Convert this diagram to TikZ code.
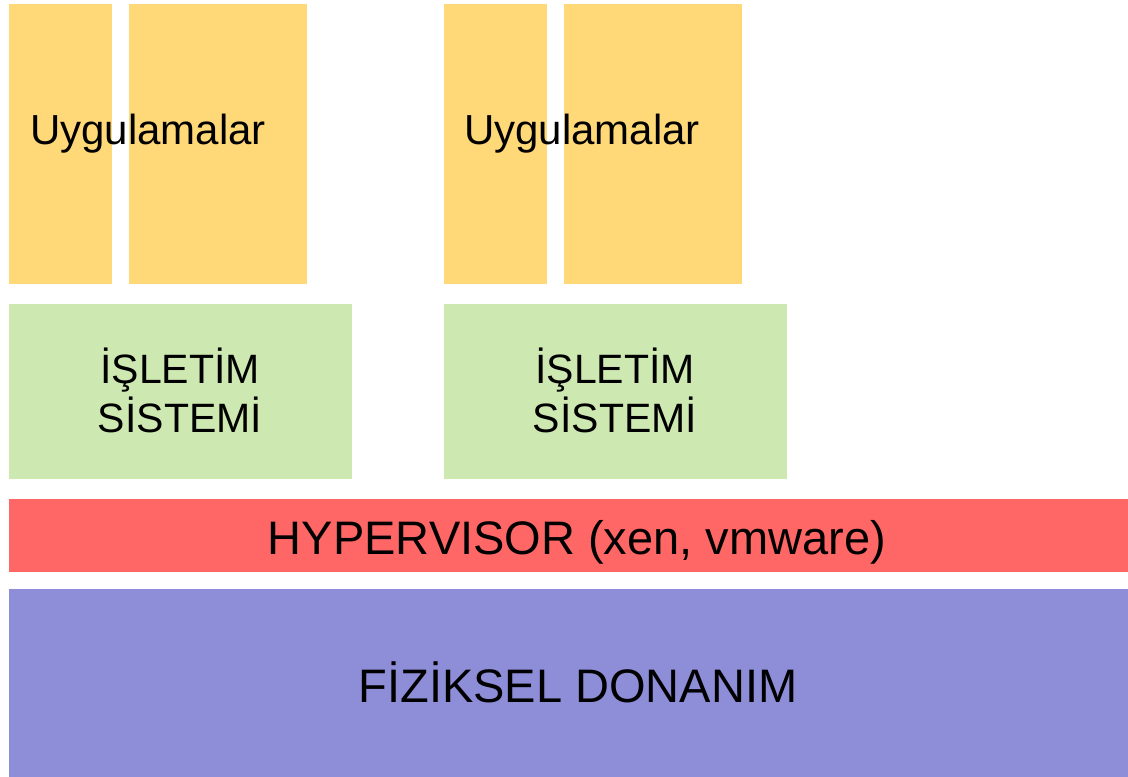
\documentclass[tikz,border=0pt]{standalone}
\usepackage{fontspec}
\setmainfont{Liberation Sans}
\definecolor{appy}{RGB}{255,217,120}
\definecolor{osg}{RGB}{206,232,178}
\definecolor{hypr}{RGB}{255,102,102}
\definecolor{hwb}{RGB}{141,141,216}
\tikzset{
  layer/.style={anchor=north west, inner sep=0pt, outer sep=0pt, draw=none},
  apptxt/.style={anchor=base west, inner sep=0pt, font=\fontsize{42}{50}\selectfont},
  ostxt/.style={anchor=base, inner sep=0pt, font=\fontsize{41}{49}\selectfont},
  bigtxt/.style={anchor=base, inner sep=0pt, font=\fontsize{47}{56}\selectfont}
}
\begin{document}
\begin{tikzpicture}[x=1pt,y=-1pt]
\useasboundingbox[fill=white] (0,0) rectangle (1128,777);
% applications, VM 1
\node[layer, fill=appy, minimum width=103pt, minimum height=280pt] (a1) at (9,4) {};
\node[layer, fill=appy, minimum width=178pt, minimum height=280pt] (a2) at (129,4) {};
% applications, VM 2
\node[layer, fill=appy, minimum width=103pt, minimum height=280pt] (b1) at (444,4) {};
\node[layer, fill=appy, minimum width=178pt, minimum height=280pt] (b2) at (564,4) {};
% operating systems
\node[layer, fill=osg, minimum width=343pt, minimum height=175pt] (os1) at (9,304) {};
\node[layer, fill=osg, minimum width=343pt, minimum height=175pt] (os2) at (444,304) {};
% hypervisor
\node[layer, fill=hypr, minimum width=1119pt, minimum height=73pt] (hv) at (9,499) {};
% hardware
\node[layer, fill=hwb, minimum width=1119pt, minimum height=188pt] (hw) at (9,589) {};
% texts
\node[apptxt] (t1) at (30,144) {Uygulamalar};
\node[apptxt] (t2) at (464,144) {Uygulamalar};
\node[ostxt] (o1a) at (180,383) {İŞLETİM};
\node[ostxt] (o1b) at (180,432) {SİSTEMİ};
\node[ostxt] (o2a) at (615,383) {İŞLETİM};
\node[ostxt] (o2b) at (615,432) {SİSTEMİ};
\node[bigtxt] (th) at (577,554) {HYPERVISOR (xen, vmware)};
\node[bigtxt] (tf) at (578,702) {FİZİKSEL DONANIM};
\end{tikzpicture}
\end{document}
